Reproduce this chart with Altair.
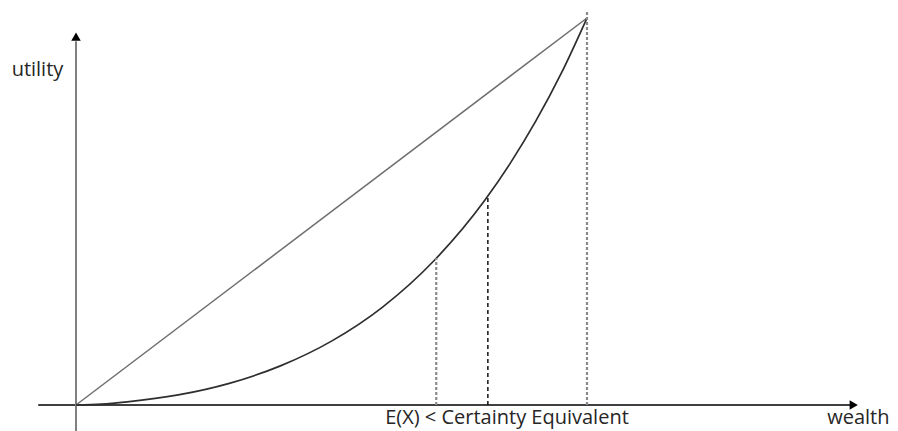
import altair as alt
import pandas as pd

# Convex utility curve (wealth, utility)
curve_w = [0, 5, 10, 20, 30, 40, 50, 60, 70, 80, 85, 90, 95, 100]
curve_u = [0, 0.2, 0.8, 2.6, 5.6, 10.1, 16.5, 25.3, 37.2, 52.9, 62.5, 73.4, 85.8, 100]

# Straight chord from origin to end point
chord_w = [0, 100]
chord_u = [0, 100]

# Vertical dashed guides: wealth position, top utility, style group
guide_w = [70.5, 80.6, 100]
guide_top = [38.0, 54.0, 101.6]
guide_kind = ["ex", "ce", "end"]

# Axes extents
xaxis_w = [-7.4, 151.5]
yaxis_u = [-6.8, 94.0]
arrow_x_w = 152.2
arrow_y_u = 95.2

# Labels
label_text = ["utility", "E(X) < Certainty Equivalent", "wealth"]
label_w = [-12.6, 60.5, 159.2]
label_u = [85.0, -5.0, -5.0]
label_align = ["left", "left", "right"]

XD = [-13.31, 159.30]
YD = [-6.72, 102.58]
xs = alt.Scale(domain=XD, nice=False, zero=False)
ys = alt.Scale(domain=YD, nice=False, zero=False)

curve_df = pd.DataFrame({"w": curve_w, "u": curve_u})
chord_df = pd.DataFrame({"w": chord_w, "u": chord_u})
guide_df = pd.DataFrame({"w": guide_w, "u0": [0] * 3, "u1": guide_top, "kind": guide_kind})
xaxis_df = pd.DataFrame({"w": xaxis_w, "u": [0, 0]})
yaxis_df = pd.DataFrame({"w": [0, 0], "u": yaxis_u})
lab_df = pd.DataFrame({"t": label_text, "w": label_w, "u": label_u, "a": label_align})

X = lambda f: alt.X(f, type="quantitative", scale=xs, axis=None)
Y = lambda f: alt.Y(f, type="quantitative", scale=ys, axis=None)

xaxis = alt.Chart(xaxis_df).mark_line(color="#000000", strokeWidth=1.5).encode(x=X("w"), y=Y("u"))
yaxis = alt.Chart(yaxis_df).mark_line(color="#7f7f7f", strokeWidth=2).encode(x=X("w"), y=Y("u"))

arrow_x = alt.Chart(pd.DataFrame({"w": [arrow_x_w], "u": [0]})).mark_point(
    shape="triangle-right", filled=True, color="#000000", size=90, opacity=1
).encode(x=X("w"), y=Y("u"))
arrow_y = alt.Chart(pd.DataFrame({"w": [0], "u": [arrow_y_u]})).mark_point(
    shape="triangle-up", filled=True, color="#000000", size=90, opacity=1
).encode(x=X("w"), y=Y("u"))

chord = alt.Chart(chord_df).mark_line(color="#6e6e6e", strokeWidth=1.5).encode(x=X("w"), y=Y("u"))
curve = alt.Chart(curve_df).mark_line(color="#2e2e2e", strokeWidth=1.7, interpolate="monotone").encode(
    x=X("w"), y=Y("u"))

g_gray = alt.Chart(guide_df[guide_df.kind != "ce"]).mark_rule(
    color="#8a8a8a", strokeWidth=2.2, strokeDash=[3, 2]).encode(x=X("w"), y=Y("u0"), y2="u1")
g_black = alt.Chart(guide_df[guide_df.kind == "ce"]).mark_rule(
    color="#111111", strokeWidth=1.5, strokeDash=[4, 3]).encode(x=X("w"), y=Y("u0"), y2="u1")

lab_left = alt.Chart(lab_df[lab_df.a == "left"]).mark_text(
    align="left", baseline="alphabetic", font="Open Sans", fontSize=20, color="#262626"
).encode(x=X("w"), y=Y("u"), text="t")
lab_right = alt.Chart(lab_df[lab_df.a == "right"]).mark_text(
    align="right", baseline="alphabetic", font="Open Sans", fontSize=20, color="#262626"
).encode(x=X("w"), y=Y("u"), text="t")

chart = alt.layer(xaxis, yaxis, chord, curve, g_gray, g_black, arrow_x, arrow_y,
                  lab_left, lab_right).properties(
    width=882, height=423, padding=0, autosize=alt.AutoSizeParams(type="none")
).configure_view(stroke=None)

chart.save("out.html", embed_options={"renderer": "svg", "actions": False})
